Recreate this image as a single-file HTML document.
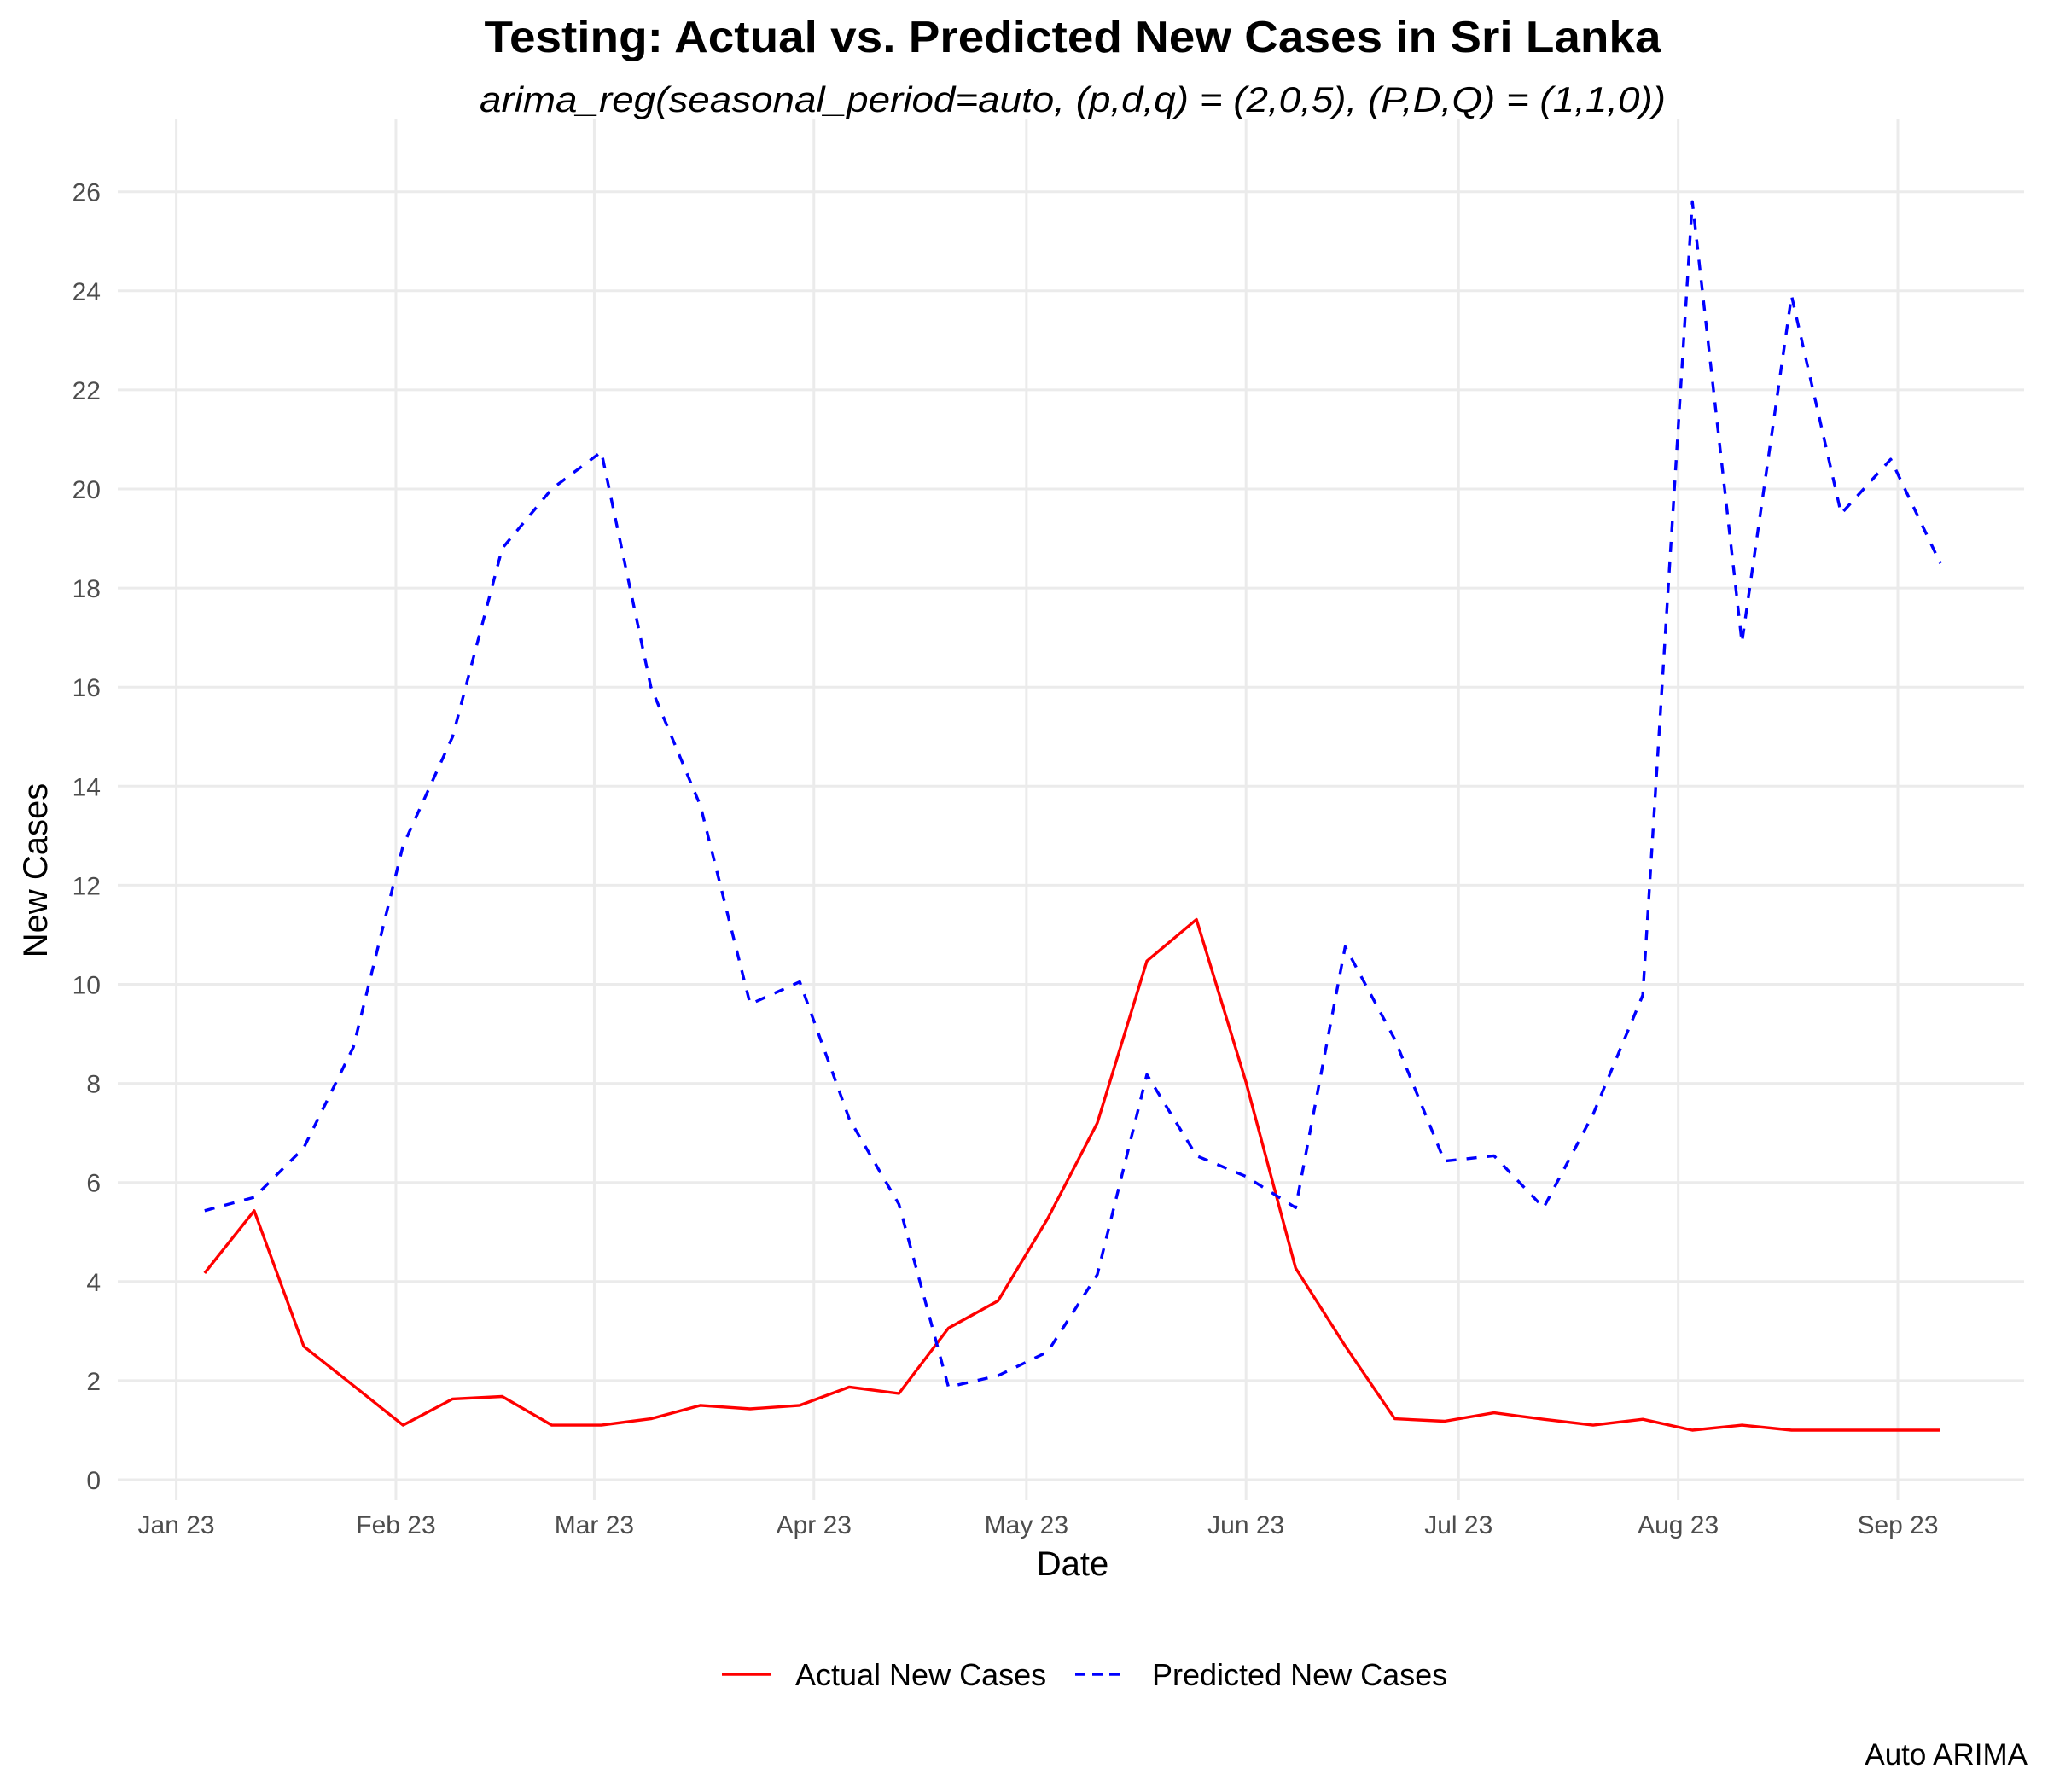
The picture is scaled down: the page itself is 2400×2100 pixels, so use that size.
<!DOCTYPE html>
<html><head><meta charset="utf-8"><style>
html,body{margin:0;padding:0;background:#fff;}
svg{display:block;font-family:"Liberation Sans",sans-serif;}
</style></head><body>
<svg id="chart" width="2400" height="2100" viewBox="0 0 2400 2100">
<rect width="2400" height="2100" fill="#fff"/>
<text x="1257" y="61" text-anchor="middle" font-size="52" font-weight="bold" textLength="1379" lengthAdjust="spacingAndGlyphs">Testing: Actual vs. Predicted New Cases in Sri Lanka</text>
<text x="1257" y="131" text-anchor="middle" font-size="42" font-style="italic" textLength="1390" lengthAdjust="spacingAndGlyphs">arima_reg(seasonal_period=auto, (p,d,q) = (2,0,5), (P,D,Q) = (1,1,0))</text>
<g id="grid"></g>
<g id="yticks"></g>
<g id="xticks"></g>
<g id="series"></g>
<text x="1257" y="1846" text-anchor="middle" font-size="40">Date</text>
<text transform="translate(55,1020) rotate(-90)" text-anchor="middle" font-size="40">New Cases</text>
<g>
<g>
<line x1="846" y1="1962" x2="903" y2="1962" stroke="#ff0000" stroke-width="3.5"/>
<text x="932" y="1975" font-size="36" fill="#000">Actual New Cases</text></g>
<g>
<line x1="1260" y1="1962" x2="1316" y2="1962" stroke="#0000ff" stroke-width="3.5" stroke-dasharray="12,8"/>
<text x="1350" y="1975" font-size="36" fill="#000">Predicted New Cases</text></g>
</g>
<text x="2376" y="2068" text-anchor="end" font-size="35">Auto ARIMA</text>
</svg>
<script>
const startDate = "2023-01-05";
const actualValues = [4.17,5.43,2.69,1.9,1.1,1.63,1.68,1.1,1.1,1.23,1.5,1.43,1.5,1.87,1.74,3.06,3.61,5.27,7.2,10.47,11.31,8.02,4.27,2.7,1.23,1.18,1.35,1.22,1.1,1.22,1.0,1.1,1.0,1.0,1.0,1.0];
const predictedValues = [5.43,5.7,6.7,8.73,12.8,15.0,18.8,20.0,20.75,16.0,13.6,9.6,10.05,7.28,5.56,1.87,2.1,2.58,4.14,8.18,6.54,6.12,5.49,10.76,8.89,6.43,6.54,5.49,7.38,9.78,25.8,16.9,23.9,19.5,20.6,18.5];
const yTicks = [0,2,4,6,8,10,12,14,16,18,20,22,24,26];
const xTickDates = ["2023-01-01","2023-02-01","2023-03-01","2023-04-01","2023-05-01","2023-06-01","2023-07-01","2023-08-01","2023-09-01"];
const xTickLabels = ["Jan 23","Feb 23","Mar 23","Apr 23","May 23","Jun 23","Jul 23","Aug 23","Sep 23"];

const NS="http://www.w3.org/2000/svg";
const day0=Date.UTC(2023,0,1);
function days(s){const p=s.split("-");return (Date.UTC(+p[0],+p[1]-1,+p[2])-day0)/86400000;}
function xs(d){return 206.6+d*8.302;}
function ys(v){return 1734-v*58.05;}
function mk(tag,attrs,parent){const e=document.createElementNS(NS,tag);for(const k in attrs)e.setAttribute(k,attrs[k]);parent.appendChild(e);return e;}
const grid=document.getElementById("grid"),yt=document.getElementById("yticks"),xt=document.getElementById("xticks"),ser=document.getElementById("series");
yTicks.forEach(v=>{
  const l=mk("line",{x1:138,x2:2372,y1:ys(v),y2:ys(v),stroke:"#ebebeb","stroke-width":3},grid);
  
  
  const t=mk("text",{x:118,y:ys(v)+11,"text-anchor":"end","font-size":30,fill:"#4d4d4d"},yt);
  t.textContent=v;
  
  
});
xTickDates.forEach((d,i)=>{
  const x=xs(days(d));
  const l=mk("line",{x1:x,x2:x,y1:140,y2:1758,stroke:"#ebebeb","stroke-width":3},grid);
  
  
  const t=mk("text",{x:x,y:1797,"text-anchor":"middle","font-size":30,fill:"#4d4d4d"},xt);
  t.textContent=xTickLabels[i];
  
  
});
const s0=days(startDate);
function pts(arr){return arr.map((v,i)=>xs(s0+7*i).toFixed(1)+","+ys(v).toFixed(1)).join(" ");}
const pa=mk("polyline",{points:pts(actualValues),fill:"none",stroke:"#ff0000","stroke-width":3.4,"stroke-linejoin":"round"},ser);


const pp=mk("polyline",{points:pts(predictedValues),fill:"none",stroke:"#0000ff","stroke-width":3.4,"stroke-dasharray":"12,12","stroke-linejoin":"round"},ser);


</script>
</body></html>
